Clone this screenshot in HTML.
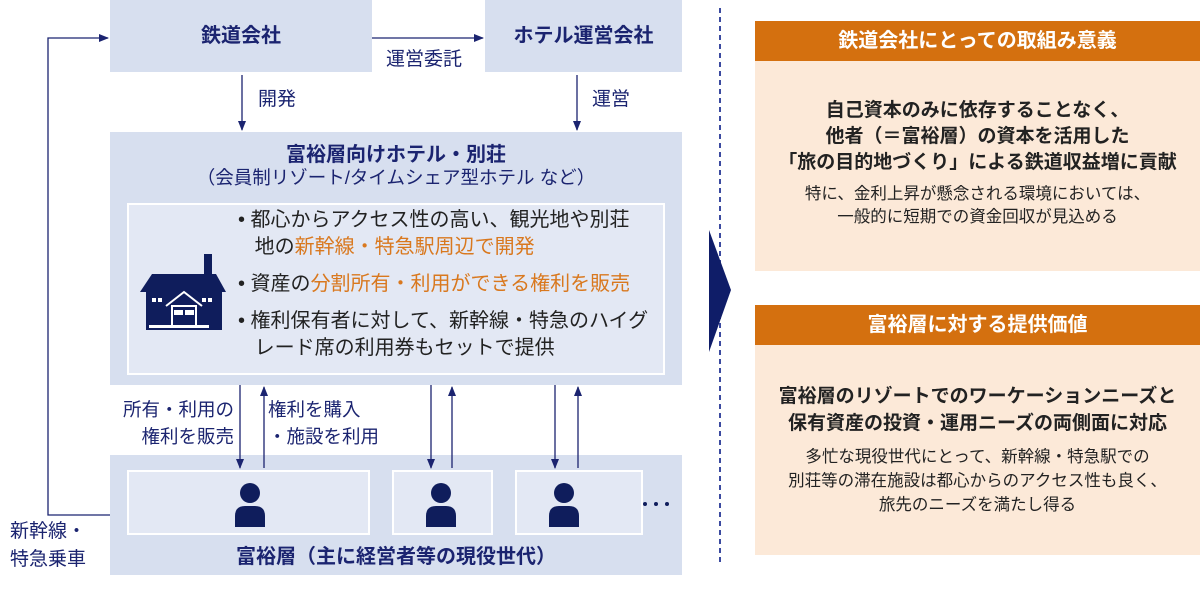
<!DOCTYPE html>
<html><head><meta charset="utf-8"><style>
*{margin:0;padding:0;box-sizing:border-box}
body{width:1200px;height:591px;background:#fff;position:relative;overflow:hidden;font-family:"Liberation Sans","Noto Sans CJK JP",sans-serif;color:#1b2470}
.a{position:absolute}
.bx{background:#d7dfef}
.c{text-align:center}
.nb{font-weight:bold}
.blk{color:#222}
.or{color:#d9781e}
.hdr{background:#d4700f;color:#fff;font-weight:bold;font-size:20px;text-align:center;line-height:40px}
.pch{background:#fce9d8}
</style></head><body>
<div class="a bx nb c" style="left:110px;top:0;width:262px;height:72px;line-height:72px;font-size:20px">鉄道会社</div>
<div class="a bx nb c" style="left:485px;top:0;width:197px;height:72px;line-height:72px;font-size:20px">ホテル運営会社</div>
<div class="a" style="left:386px;top:44px;font-size:19px">運営委託</div>
<div class="a" style="left:258px;top:84px;font-size:19px">開発</div>
<div class="a" style="left:592px;top:84px;font-size:19px">運営</div>
<div class="a bx" style="left:110px;top:132px;width:572px;height:253px"></div>
<div class="a nb c" style="left:110px;top:138px;width:572px;font-size:20px">富裕層向けホテル・別荘</div>
<div class="a c" style="left:110px;top:164px;width:572px;font-size:18.5px">（会員制リゾート/タイムシェア型ホテル など）</div>
<div class="a" style="left:127px;top:203px;width:538px;height:172px;background:#e3e8f4;border:2px solid #fff"></div>
<div class="a blk" style="left:238px;top:207px;font-size:20px;line-height:27px;width:425px;white-space:nowrap">
<div>• 都心からアクセス性の高い、観光地や別荘<br>&nbsp;&nbsp;&nbsp;地の<span class="or">新幹線・特急駅周辺で開発</span></div>
<div style="margin-top:10px">• 資産の<span class="or">分割所有・利用ができる権利を販売</span></div>
<div style="margin-top:10px">• 権利保有者に対して、新幹線・特急のハイグ<br>&nbsp;&nbsp;&nbsp;レード席の利用券もセットで提供</div>
</div>
<svg class="a" style="left:138px;top:252px" width="90" height="80" viewBox="0 0 90 80">
<rect x="66" y="2" width="8" height="22" fill="#0f1d5c"/>
<polygon points="14,22 78,22 88,40 2,40" fill="#0f1d5c"/>
<rect x="8" y="40" width="76" height="38" fill="#0f1d5c"/>
<rect x="11" y="73" width="60" height="3" fill="#fff"/>
<rect x="14" y="46" width="4" height="4" fill="#fff"/><rect x="20" y="46" width="4" height="4" fill="#fff"/>
<rect x="64" y="46" width="4" height="4" fill="#fff"/><rect x="70" y="46" width="4" height="4" fill="#fff"/>
<polyline points="28,54 46,40 64,54" fill="none" stroke="#fff" stroke-width="2"/>
<polyline points="34,76 34,54 58,54 58,76" fill="none" stroke="#fff" stroke-width="2"/>
<rect x="36" y="58" width="9" height="5" fill="#fff"/><rect x="47" y="58" width="9" height="5" fill="#fff"/>
</svg>
<div class="a bx" style="left:110px;top:455px;width:572px;height:120px"></div>
<div class="a" style="left:127px;top:470px;width:243px;height:65px;background:#e3e8f4;border:2px solid #fff"></div>
<div class="a" style="left:392px;top:470px;width:101px;height:65px;background:#e3e8f4;border:2px solid #fff"></div>
<div class="a" style="left:515px;top:470px;width:128px;height:65px;background:#e3e8f4;border:2px solid #fff"></div>
<svg class="a" style="left:0;top:0" width="1200" height="591">
<defs><marker id="m" markerWidth="10" markerHeight="10" refX="9" refY="5" orient="auto" markerUnits="userSpaceOnUse"><path d="M0,1 L10,5 L0,9z" fill="#1b2470"/></marker></defs>
<g stroke="#1b2470" stroke-width="1.3" fill="none">
<polyline points="110,515 48,515 48,38 108,38" marker-end="url(#m)"/>
<line x1="372" y1="38" x2="483" y2="38" marker-end="url(#m)"/>
<line x1="242" y1="75" x2="242" y2="130" marker-end="url(#m)"/>
<line x1="577" y1="75" x2="577" y2="130" marker-end="url(#m)"/>
<line x1="240" y1="385" x2="240" y2="468" marker-end="url(#m)"/>
<line x1="264" y1="468" x2="264" y2="387" marker-end="url(#m)"/>
<line x1="431" y1="385" x2="431" y2="468" marker-end="url(#m)"/>
<line x1="452" y1="468" x2="452" y2="387" marker-end="url(#m)"/>
<line x1="555" y1="385" x2="555" y2="468" marker-end="url(#m)"/>
<line x1="578" y1="468" x2="578" y2="387" marker-end="url(#m)"/>
<line x1="720" y1="8" x2="720" y2="566" stroke="#3b4aa0" stroke-width="2" stroke-dasharray="5,4"/>
</g>
<polygon points="709,230 731,290 709,352" fill="#0f1d68"/>
<g fill="#0f1d5c">
<g transform="translate(250,483)"><circle cx="0" cy="10" r="10"/><path d="M-15,44 V33 Q-15,23 -5,23 H5 Q15,23 15,33 V44z"/></g>
<g transform="translate(441,483)"><circle cx="0" cy="10" r="10"/><path d="M-15,44 V33 Q-15,23 -5,23 H5 Q15,23 15,33 V44z"/></g>
<g transform="translate(564,483)"><circle cx="0" cy="10" r="10"/><path d="M-15,44 V33 Q-15,23 -5,23 H5 Q15,23 15,33 V44z"/></g>
<circle cx="645" cy="504" r="2"/><circle cx="656" cy="504" r="2"/><circle cx="667" cy="504" r="2"/>
</g>
</svg>
<div class="a" style="left:70px;top:396px;font-size:18.5px;line-height:27px;text-align:right;width:164px;white-space:nowrap">所有・利用の<br>権利を販売</div>
<div class="a" style="left:268px;top:396px;font-size:18.5px;line-height:27px;white-space:nowrap">権利を購入<br>・施設を利用</div>
<div class="a c" style="left:0px;top:518px;font-size:19px;line-height:28px;width:96px;white-space:nowrap">新幹線・<br>特急乗車</div>
<div class="a nb c" style="left:110px;top:540px;width:572px;font-size:20px">富裕層（主に経営者等の現役世代）</div>
<div class="a hdr" style="left:755px;top:21px;width:445px">鉄道会社にとっての取組み意義</div>
<div class="a pch c blk" style="left:755px;top:61px;width:445px;height:210px">
<div class="nb" style="font-size:19px;line-height:26px;margin-top:37px">自己資本のみに依存することなく、<br>他者（＝富裕層）の資本を活用した<br>「旅の目的地づくり」による鉄道収益増に貢献</div>
<div style="font-size:16.5px;line-height:23px;margin-top:7px">特に、金利上昇が懸念される環境においては、<br>一般的に短期での資金回収が見込める</div></div>
<div class="a hdr" style="left:755px;top:305px;width:445px">富裕層に対する提供価値</div>
<div class="a pch c blk" style="left:755px;top:345px;width:445px;height:210px">
<div class="nb" style="font-size:19px;line-height:27px;margin-top:38px">富裕層のリゾートでのワーケーションニーズと<br>保有資産の投資・運用ニーズの両側面に対応</div>
<div style="font-size:16.5px;line-height:24px;margin-top:8px">多忙な現役世代にとって、新幹線・特急駅での<br>別荘等の滞在施設は都心からのアクセス性も良く、<br>旅先のニーズを満たし得る</div></div>
</body></html>
